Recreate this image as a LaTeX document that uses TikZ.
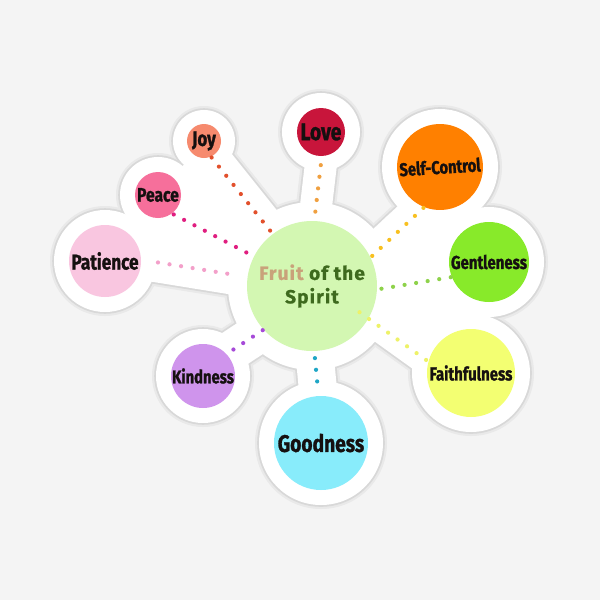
\documentclass[tikz,border=0pt]{standalone}
\usepackage{fontspec}
\setmainfont{Fira Sans}
\newfontfamily\lblfont{Fira Sans}[FakeStretch=0.8,FakeBold=1.2]
\newfontfamily\ctrfont{Fira Sans}[LetterSpace=6,FakeBold=1]
\newcommand\fsz[1]{\fontsize{#1}{#1}\selectfont}
\pgfdeclarelayer{paper}
\pgfdeclarelayer{haloA}
\pgfdeclarelayer{haloB}
\pgfdeclarelayer{haloC}
\pgfsetlayers{paper,haloA,haloB,haloC,main}
\definecolor{bgc}{HTML}{F4F4F4}
\definecolor{shadowc}{HTML}{E9E9E9}
\definecolor{edgec}{HTML}{D8D8D8}
\definecolor{cCenter}{HTML}{D3F7B2}
\definecolor{cLove}{HTML}{C8153B}
\definecolor{cJoy}{HTML}{F68A6E}
\definecolor{cPeace}{HTML}{F66F9B}
\definecolor{cPatience}{HTML}{F9C6E0}
\definecolor{cSC}{HTML}{FF8000}
\definecolor{cGent}{HTML}{88EA2A}
\definecolor{cFaith}{HTML}{F3FF72}
\definecolor{cGood}{HTML}{88ECFB}
\definecolor{cKind}{HTML}{CF94EC}
\definecolor{dLove}{HTML}{F0A040}
\definecolor{dJoy}{HTML}{E2502C}
\definecolor{dPeace}{HTML}{E01E80}
\definecolor{dPat}{HTML}{F3A0CA}
\definecolor{dSC}{HTML}{F8C020}
\definecolor{dGent}{HTML}{8ED24A}
\definecolor{dFaith}{HTML}{EEF268}
\definecolor{dGood}{HTML}{1FA6C6}
\definecolor{dKind}{HTML}{A64AD8}
\definecolor{fruittan}{HTML}{C9A27A}
\definecolor{greentxt}{HTML}{3E6A1E}
\definecolor{txt}{HTML}{151010}
\tikzset{
  fruit/.style={circle, inner sep=0pt, text=txt},
  dotl/.style={line width=4.2pt, line cap=round, dash pattern=on 0pt off 11.7pt},
}
% sticker outline: colour #1, grown by #2 pt
\newcommand\stickershape[2]{%
  \foreach \n/\rr in {center/84, love/39, joy/31, peace/38, patience/51,
                      selfc/58, gentle/55, faith/59, good/62, kind/47}
    \fill[#1] (\n.center) circle[radius=\rr pt+#2pt];
  \draw[#1, line width=32pt+2*#2pt] (love.272) -- (center.88);
  \draw[#1, line width=36pt+2*#2pt] (joy.-66) -- (center.127);
  \draw[#1, line width=36pt+2*#2pt] (peace.-53) -- (center.153);
  \draw[#1, line width=40pt+2*#2pt] (patience.2) -- (center.172);
  \draw[#1, line width=36pt+2*#2pt] (selfc.245) -- (center.26);
  \draw[#1, line width=36pt+2*#2pt] (gentle.202) -- (center.357);
  \draw[#1, line width=30pt+2*#2pt] (center.-30) -- (faith.165);
  \draw[#1, line width=38pt+2*#2pt] (center.-88) -- (good.93);
  \draw[#1, line width=40pt+2*#2pt] (center.222) -- (kind.43);
  \filldraw[#1, line width=2*#2pt+0.1pt, line join=round]
    (center.center) -- (joy.center) -- (peace.center) -- (patience.center) -- cycle;
  \filldraw[#1, line width=2*#2pt+0.1pt, line join=round]
    (center.center) -- (selfc.center) -- (gentle.center) -- (faith.center) -- cycle;
}
\begin{document}
\begin{tikzpicture}[x=1pt,y=-1pt]
\begin{pgfonlayer}{paper}
\fill[bgc] (0,0) rectangle (600,600);
\end{pgfonlayer}
\useasboundingbox (0,0) rectangle (600,600);

% nodes
\node[fruit, minimum size=130pt, fill=cCenter, text=greentxt, align=center,
      font={\ctrfont\bfseries\fontsize{19}{23.5}\selectfont}] (center) at (312,286)
      {{\color{fruittan}Fruit} of the\\Spirit};
\node[fruit, minimum size=48pt, fill=cLove, font={\lblfont\bfseries\fsz{24}}] (love) at (321,132) {Love};
\node[fruit, minimum size=34pt, fill=cJoy, font={\lblfont\bfseries\fsz{21}}] (joy) at (204,141) {Joy};
\node[fruit, minimum size=46pt, fill=cPeace, font={\lblfont\bfseries\fsz{19.5}}] (peace) at (158,195) {Peace};
\node[fruit, minimum size=72pt, fill=cPatience, font={\lblfont\bfseries\fsz{21.5}}] (patience) at (105,261) {Patience};
\node[fruit, minimum size=86pt, fill=cSC, rotate=3.5, font={\lblfont\bfseries\fsz{18.4}}] (selfc) at (440,167) {Self-Control};
\node[fruit, minimum size=80pt, fill=cGent, font={\lblfont\bfseries\fsz{18.7}}] (gentle) at (489,262) {Gentleness};
\node[fruit, minimum size=88pt, fill=cFaith, font={\lblfont\bfseries\fsz{18.7}}] (faith) at (471,373) {Faithfulness};
\node[fruit, minimum size=94pt, fill=cGood, font={\lblfont\bfseries\fsz{24}}] (good) at (321,443) {Goodness};
\node[fruit, minimum size=64pt, fill=cKind, font={\lblfont\bfseries\fsz{18.5}}] (kind) at (203,376) {Kindness};

% sticker halo
\begin{pgfonlayer}{haloA}\stickershape{shadowc}{4}\end{pgfonlayer}
\begin{pgfonlayer}{haloB}\stickershape{edgec}{1.8}\end{pgfonlayer}
\begin{pgfonlayer}{haloC}\stickershape{white}{0}\end{pgfonlayer}

% dotted connectors
\draw[dotl, dLove, shorten <=9pt, shorten >=2pt] (love.272) -- (center.88);
\draw[dotl, dJoy, shorten <=1pt, shorten >=4pt] (joy.-66) -- (center.127);
\draw[dotl, dPeace, shorten <=2pt, shorten >=4pt] (peace.-53) -- (center.153);
\draw[dotl, dPat, shorten <=17pt, shorten >=10pt] (patience.2) -- (center.172);
\draw[dotl, dSC, shorten <=1pt, shorten >=1pt] (selfc.245) -- (center.26);
\draw[dotl, dGent, shorten <=1pt, shorten >=1pt] (gentle.202) -- (center.357);
\draw[dotl, dFaith, shorten <=-11pt, shorten >=1pt] (center.-30) -- (faith.165);
\draw[dotl, dGood, shorten <=7pt, shorten >=3pt] (center.-88) -- (good.93);
\draw[dotl, dKind, shorten <=1pt, shorten >=3pt] (center.222) -- (kind.43);
\end{tikzpicture}
\end{document}
